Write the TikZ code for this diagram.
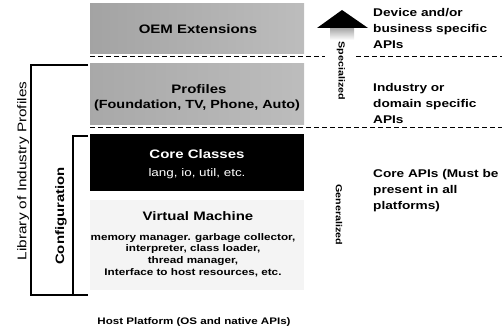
\documentclass[tikz,border=0pt]{standalone}
\usepackage{fontspec}
\setmainfont{Liberation Sans}[FakeStretch=1.22]
\usetikzlibrary{shadings}
\begin{document}
\begin{tikzpicture}[x=1pt,y=-1pt,
  layer/.style={draw=none,minimum width=214pt,anchor=north west,inner sep=0pt},
  title/.style={font=\fontsize{12.3}{14}\selectfont\bfseries,inner sep=0pt},
  rtext/.style={anchor=north west,align=left,font=\fontsize{11.2}{16}\selectfont\bfseries,inner sep=0pt},
  sepline/.style={dash pattern=on 5pt off 3pt,line width=1pt},
  brk/.style={line width=1.8pt},
  side/.style={font=\fontsize{8.8}{10}\selectfont\bfseries,rotate=-90,inner sep=0pt}]
\useasboundingbox (0,0) rectangle (502,331);
% layers
\node[layer,left color=gray!72,right color=gray!52,minimum height=50pt] (oem) at (90,3) {};
\node[title] (oemt) at (198,29) {OEM Extensions};
\node[layer,left color=gray!68,right color=gray!52,minimum height=61pt] (prof) at (90,63) {};
\node[title] (proft) at (199,89) {Profiles};
\node[font=\fontsize{11.8}{14}\selectfont\bfseries,inner sep=0pt] (profs) at (197,105) {(Foundation, TV, Phone, Auto)};
\node[layer,fill=black,minimum height=57pt] (core) at (90,134) {};
\node[title,text=white] (coret) at (197,154) {Core Classes};
\node[font=\fontsize{11}{13}\selectfont,text=white,inner sep=0pt] (cores) at (197,174) {lang, io, util, etc.};
\node[layer,fill=gray!9,minimum height=90pt] (vm) at (90,200) {};
\node[title] (vmt) at (198,216) {Virtual Machine};
\node[font=\fontsize{9.6}{11.7}\selectfont\bfseries,align=center,anchor=north,inner sep=0pt] (vms) at (193,233)
  {memory manager. garbage collector,\\interpreter, class loader,\\thread manager,\\Interface to host resources, etc.};
\node[font=\fontsize{9.5}{11}\selectfont\bfseries,inner sep=0pt] (host) at (194,322) {Host Platform (OS and native APIs)};
% dashed separators
\coordinate (d1a) at (90,57); \coordinate (d1b) at (325,57);
\coordinate (d1c) at (356,57); \coordinate (d1d) at (502,57);
\coordinate (d2a) at (90,128); \coordinate (d2b) at (502,128);
\draw[sepline] (d1a) -- (d1b);
\draw[sepline] (d1c) -- (d1d);
\draw[sepline] (d2a) -- (d2b);
% brackets
\coordinate (b1t) at (88,65); \coordinate (b1tl) at (31,65);
\coordinate (b1bl) at (31,295); \coordinate (b1b) at (88,295);
\draw[brk] (b1t) -- (b1tl) -- (b1bl) -- (b1b);
\coordinate (b2t) at (88,136); \coordinate (b2tl) at (73,136);
\coordinate (b2b) at (73,295);
\draw[brk] (b2t) -- (b2tl) -- (b2b);
\node[rotate=90,font=\fontsize{12.6}{14}\selectfont,inner sep=0pt] (lib) at (23,171) {Library of Industry Profiles};
\node[rotate=90,font=\fontsize{12.2}{14}\selectfont\bfseries,inner sep=0pt] (conf) at (61,216) {Configuration};
% arrow
\shade[top color=gray!75,bottom color=white] (330,27) rectangle (354,40);
\coordinate (al) at (317,28); \coordinate (at) at (342,10); \coordinate (ar) at (368,28);
\fill[black] (al) -- (at) -- (ar) -- cycle;
\node[side] (spec) at (341,71) {Specialized};
\node[side] (gen) at (339,215) {Generalized};
% right texts
\node[rtext] (r1) at (373,8) {Device and/or\\business specific\\APIs};
\node[rtext] (r2) at (373,83) {Industry or\\domain specific\\APIs};
\node[rtext] (r3) at (373,169) {Core APIs (Must be\\present in all\\platforms)};
\end{tikzpicture}
\end{document}
